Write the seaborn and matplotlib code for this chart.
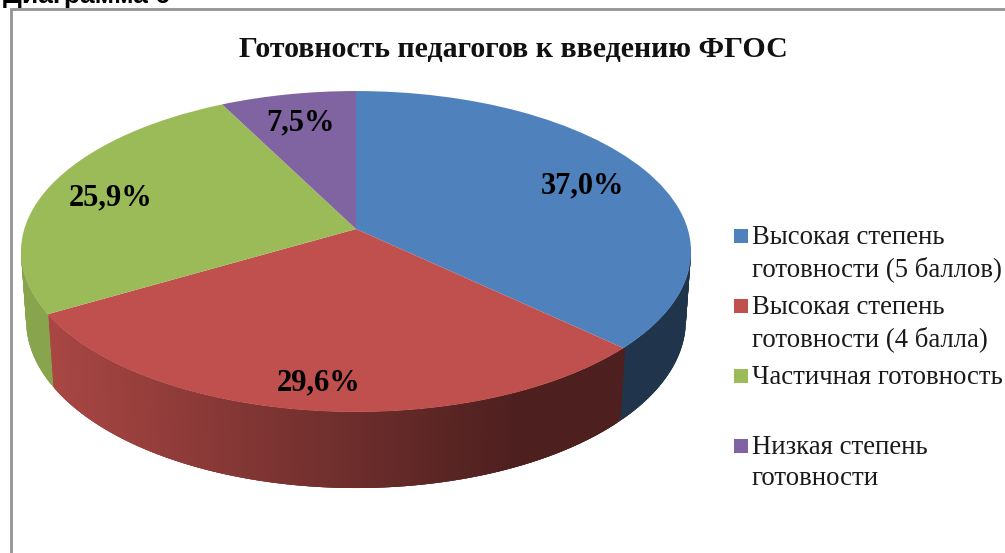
import matplotlib

matplotlib.use("Agg")
import matplotlib.pyplot as plt
import matplotlib.transforms as mtransforms
import numpy as np
import seaborn as sns

sns.set_theme(style="white")
plt.rcParams["font.family"] = ["Liberation Serif", "DejaVu Serif"]

HEADING = "Диаграмма 6"
TITLE = "Готовность педагогов к введению ФГОС"
CATEGORIES = [
    "Высокая степень\nготовности (5 баллов)",
    "Высокая степень\nготовности (4 балла)",
    "Частичная готовность",
    "Низкая степень\nготовности",
]
VALUES = [37.0, 29.6, 25.9, 7.5]
COLORS = ["#4F81BD", "#C0504D", "#9BBB59", "#8064A2"]

# pixel geometry of the tilted pie
CX, CY = 356, 229
KX, KY, TILT = 331.7, 157.3, 0.1402
DEPTH, DEPTH_W = 69.4, 0.0154


def project(u, v, h=0.0):
    """Perspective view of a unit disc, h=1 gives the lower face."""
    w = 1 + TILT * v + DEPTH_W * h
    return CX + KX * u / w, CY + (DEPTH * h - KY * v) / w


class TopFace(mtransforms.Transform):
    input_dims = output_dims = 2

    def transform_non_affine(self, values):
        x, y = project(values[:, 0], values[:, 1])
        return np.column_stack([x, y])


def shade(x):
    return np.clip(0.88 - (x - 50) * 0.46 / 450, 0.40, 0.88)


def draw_walls(ax, wedges, palette):
    for wedge, color in zip(wedges, palette):
        angles = np.radians(np.arange(wedge.theta1, wedge.theta2 + 0.5, 0.5))
        angles = angles[np.sin(angles) < -0.1]
        # each strip reaches over the next one so no seams show between them
        for a0, a1 in zip(angles[:-3], angles[3:]):
            xs0, ys0 = project(np.cos([a0, a1]), np.sin([a0, a1]))
            xs1, ys1 = project(np.cos([a1, a0]), np.sin([a1, a0]), 1.0)
            tone = np.array(color) * shade(xs0.mean())
            ax.fill(np.r_[xs0, xs1], np.r_[ys0, ys1], color=tone, lw=0, zorder=1)


def main():
    palette = sns.color_palette(COLORS)
    fig = plt.figure(figsize=(10.05, 5.53), dpi=100)
    ax = fig.add_axes([0, 0, 1, 1])

    wedges, _, pct_labels = ax.pie(
        VALUES,
        colors=palette,
        startangle=90,
        counterclock=False,
        autopct=lambda p: f"{p:.1f}".replace(".", ",") + "%",
        wedgeprops={"linewidth": 0},
    )
    ax.set_aspect("auto")
    ax.set_xlim(0, 1005)
    ax.set_ylim(553, 0)
    ax.axis("off")

    top_face = TopFace() + ax.transData
    for wedge in wedges:
        wedge.set_transform(top_face)
        wedge.set_zorder(2)
    draw_walls(ax, wedges, palette)

    for text, pos in zip(pct_labels, [(583, 186), (319, 383), (111, 198), (301, 123)]):
        text.set_position(pos)
        text.set(fontsize=22, fontweight="bold", color="black", ha="center", va="center", zorder=3)

    # legend rows have an even pitch, the marker sits on the first line
    for i, (label, color) in enumerate(zip(CATEGORIES, palette)):
        y = 236 + i * 70
        ax.scatter([741], [y], marker="s", s=88, color=[color], linewidths=0, zorder=3)
        ax.text(752, y - 11, label, fontsize=19.3, color="#1a1a1a", va="top", ha="left", linespacing=1.33)

    ax.text(513, 50, TITLE, fontsize=21.5, fontweight="bold", color="#111111", ha="center", va="center")
    ax.text(3, 3, HEADING, family=["Liberation Sans"], fontsize=19, fontweight="bold", color="black", ha="left", va="baseline")

    # chart frame, cut by the image edges
    ax.plot([11, 11, 1005], [553, 9, 9], color="#949494", lw=2.0, solid_joinstyle="miter", zorder=4)

    fig.savefig("out.png", dpi=100)
    plt.close(fig)


if __name__ == "__main__":
    main()
